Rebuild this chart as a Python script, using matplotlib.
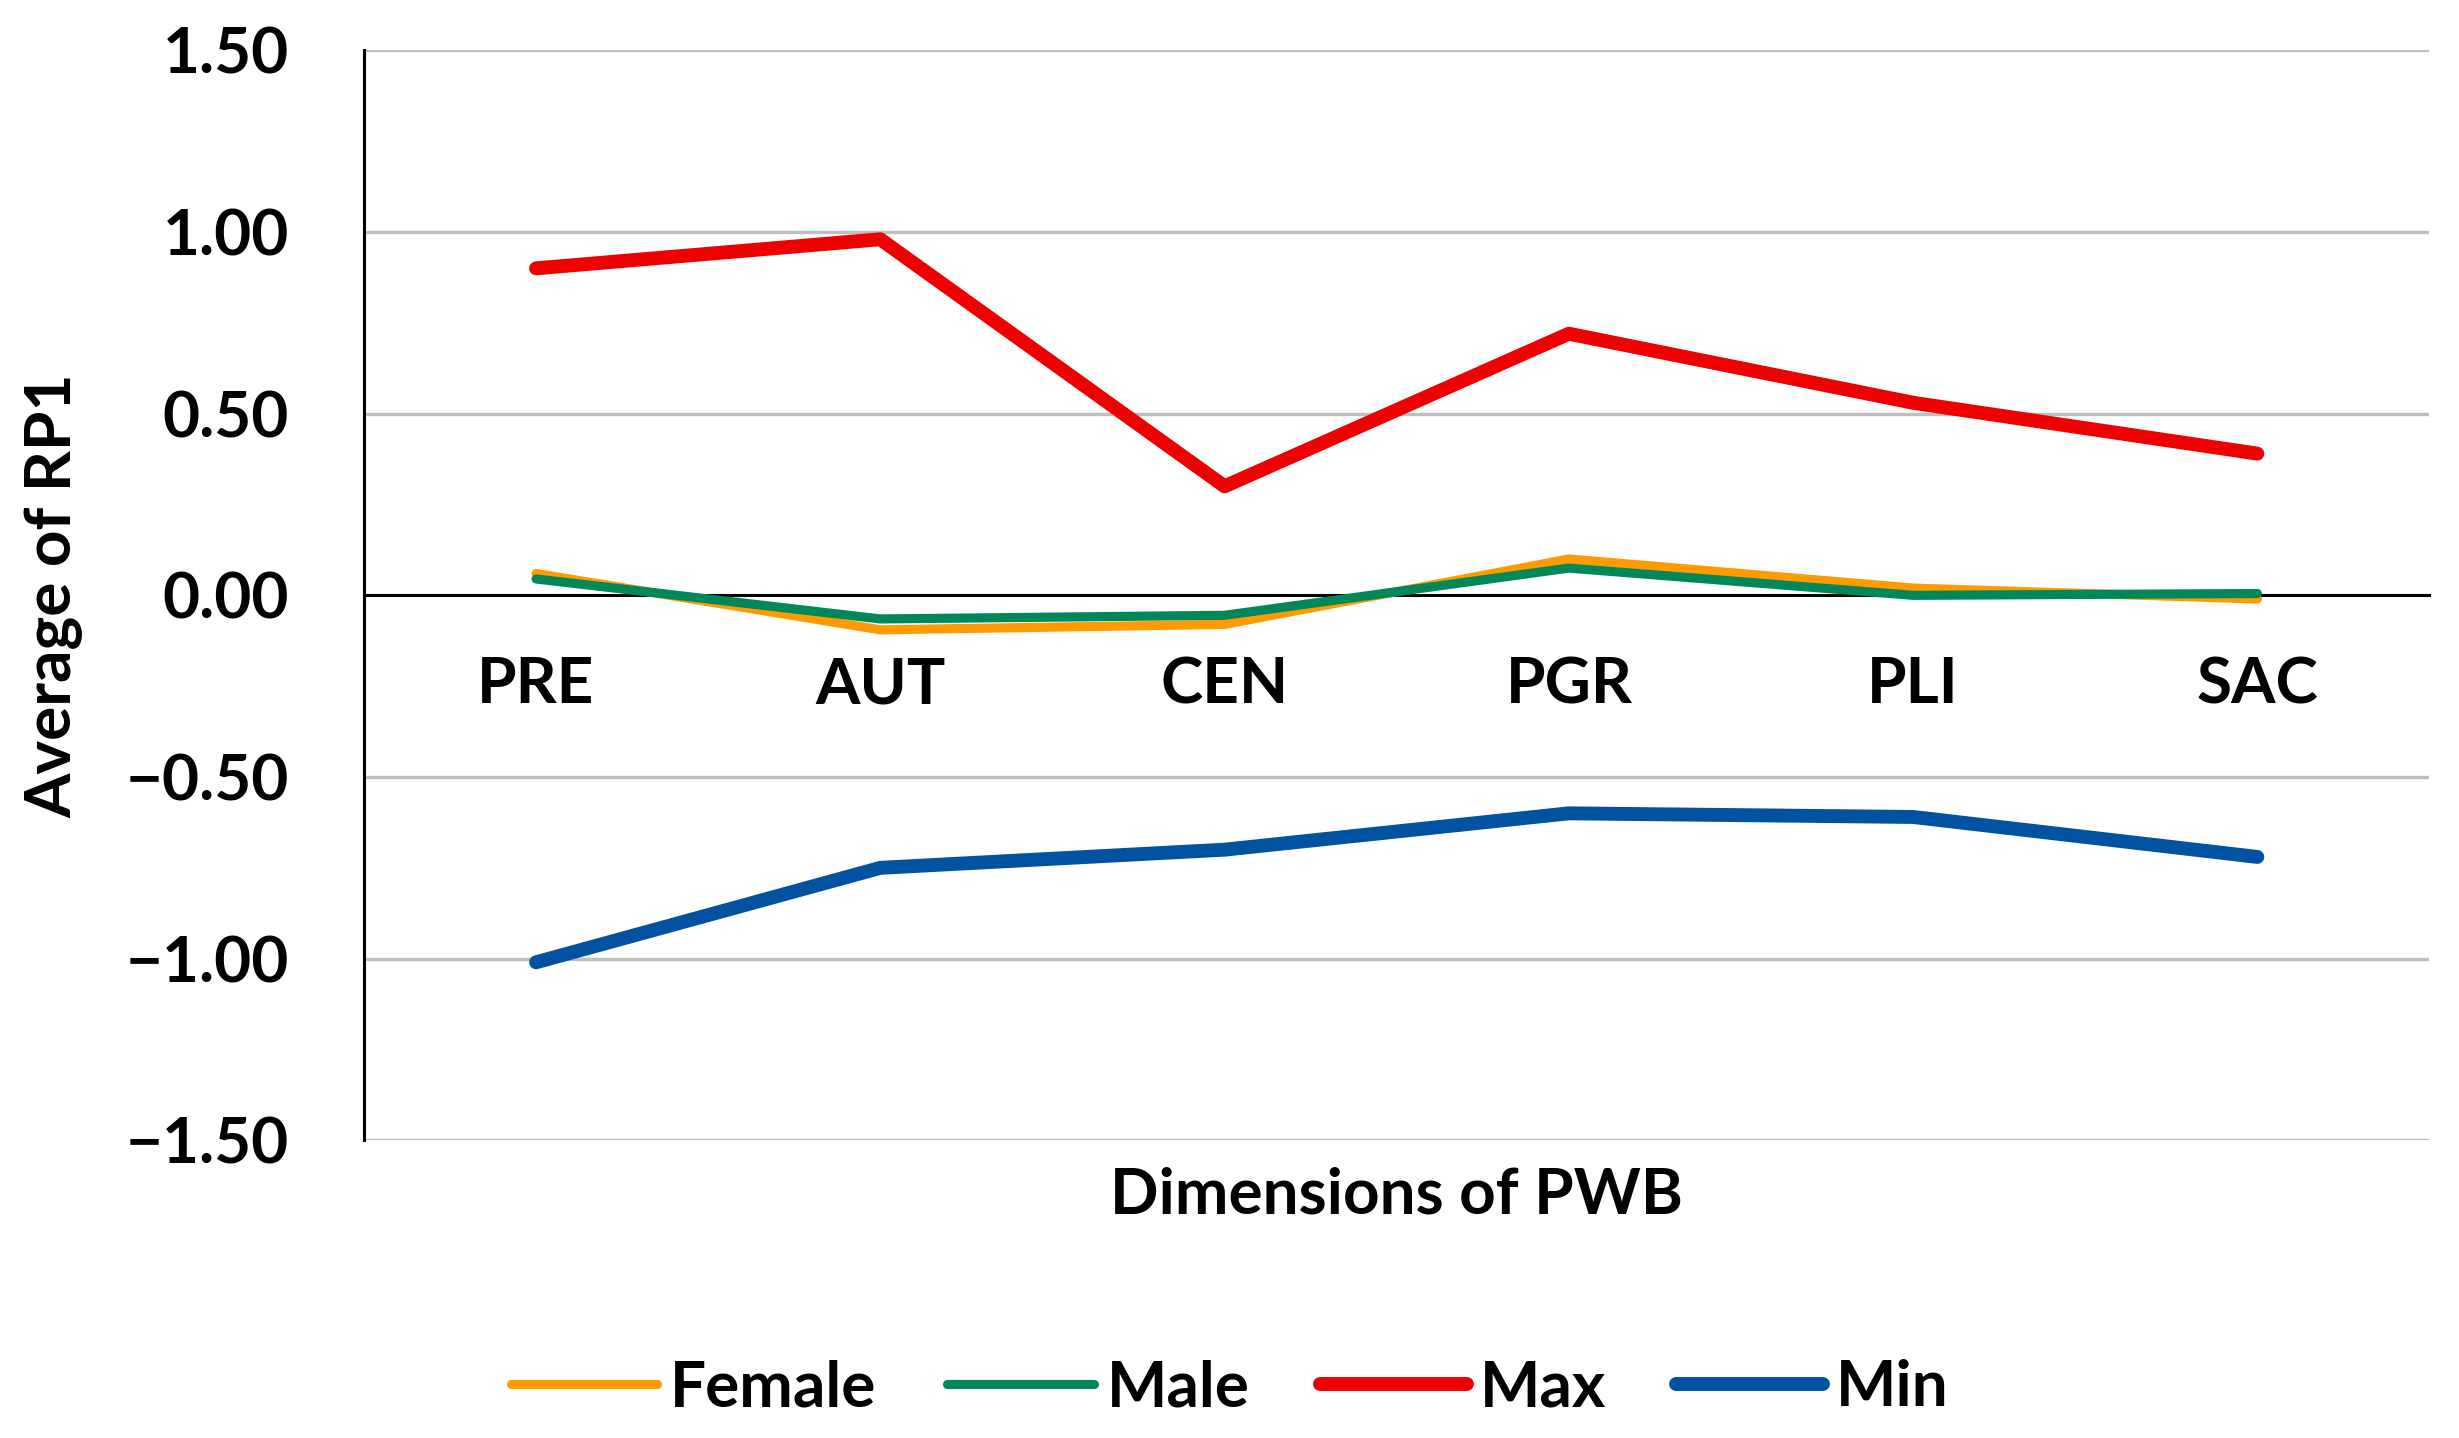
import matplotlib.pyplot as plt

plt.rcParams['font.family'] = ['Lato', 'DejaVu Sans']
plt.rcParams['font.weight'] = 'bold'

dims = ['PRE', 'AUT', 'CEN', 'PGR', 'PLI', 'SAC']
female = [0.06, -0.095, -0.08, 0.10, 0.02, -0.01]
male = [0.045, -0.065, -0.055, 0.075, 0.0, 0.005]
max_vals = [0.90, 0.98, 0.30, 0.72, 0.53, 0.39]
min_vals = [-1.01, -0.75, -0.70, -0.60, -0.61, -0.72]

fig = plt.figure(figsize=(12.295, 7.19), dpi=200)
ax = fig.add_axes([0.148, 0.207, 0.84, 0.758])

x = range(len(dims))
ax.plot(x, female, color='#FF9A00', lw=3.3, label='Female', solid_capstyle='round', zorder=3)
ax.plot(x, male, color='#00875A', lw=3.3, label='Male', solid_capstyle='round', zorder=3)
ax.plot(x, max_vals, color='#EE0000', lw=5.0, label='Max', solid_capstyle='round', zorder=3)
ax.plot(x, min_vals, color='#0152A1', lw=5.0, label='Min', solid_capstyle='round', zorder=3)

ax.set_xlim(-0.5, 5.5)
ax.set_ylim(-1.5, 1.5)
yt = [-1.5, -1.0, -0.5, 0.0, 0.5, 1.0, 1.5]
ax.set_yticks(yt)
ax.set_yticklabels([f'{v:.2f}'.replace('-', '\u2212') for v in yt])
for v in yt:
    if v != 0:
        ax.axhline(v, color='#BFBFBF', lw=1.2, zorder=1)

ax.spines['top'].set_visible(False)
ax.spines['right'].set_visible(False)
ax.spines['left'].set_linewidth(1.1)
ax.spines['bottom'].set_position(('data', 0))
ax.spines['bottom'].set_linewidth(1.1)
ax.spines['bottom'].set_zorder(2)

ax.set_xticks(list(x))
ax.set_xticklabels(dims)
ax.tick_params(axis='both', length=0, labelsize=23)
ax.tick_params(axis='y', pad=27)
ax.tick_params(axis='x', pad=22)

fig.text(0.568, 0.169, 'Dimensions of PWB', ha='center', va='center', fontsize=23, fontweight='bold')
fig.text(0.022, 0.586, 'Average of RP1', ha='center', va='center', rotation=90, fontsize=23, fontweight='bold')

fig.legend(loc='center', bbox_to_anchor=(0.5, 0.035), ncol=4, frameon=False, fontsize=23,
           handlelength=2.3, handletextpad=0.2, columnspacing=1.1)

fig.savefig('out.png', dpi=200)
